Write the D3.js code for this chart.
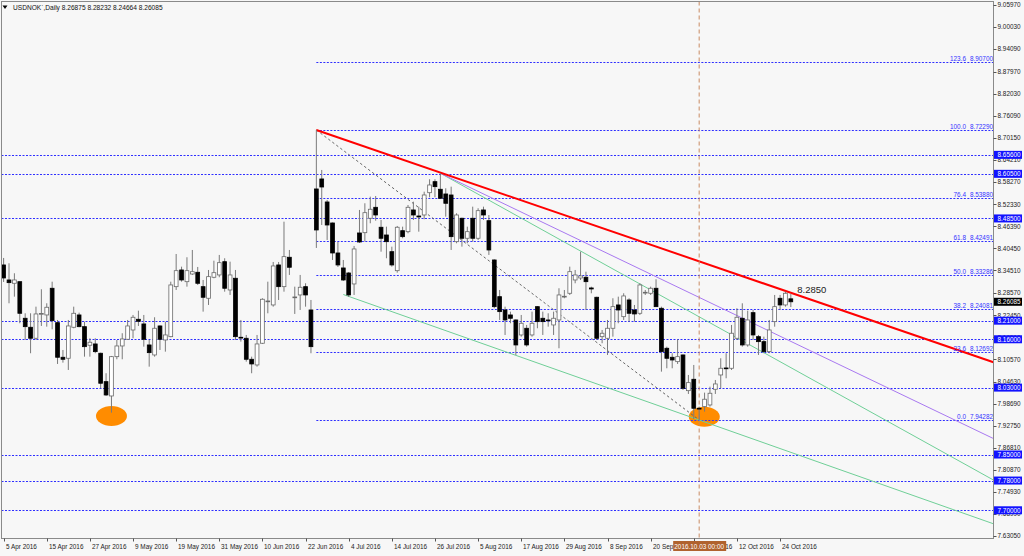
<!DOCTYPE html>
<html><head><meta charset="utf-8">
<script src="https://cdn.jsdelivr.net/npm/d3@7"></script>
<style>
html,body{margin:0;padding:0;background:#f7f7f7;}
svg{display:block;font-family:"Liberation Sans",Arial,sans-serif;}
</style></head>
<body><svg id="c" width="1024" height="556"></svg>
<script>
// ---------------- DATA ----------------
const symbol = "USDNOK`,Daily";
const firstDate = "2016-04-05";
const open  = [8.3599,8.3195,8.3106,8.3149,8.2165,8.1923,8.1627,8.2281,8.2254,8.2972,8.2047,8.1116,8.1089,8.1923,8.2254,8.1939,8.1439,8.1474,8.1224,8.0460,8.0075,8.1132,8.1420,8.1600,8.1850,8.2138,8.2012,8.1447,8.1178,8.1958,8.1581,8.1670,8.3015,8.3464,8.3149,8.3356,8.3402,8.3015,8.2703,8.3268,8.3330,8.3687,8.2926,8.3241,8.1654,8.1627,8.1062,8.0909,8.1493,8.2611,8.2523,8.3599,8.3015,8.3806,8.2730,8.2792,8.3015,8.2388,8.5643,8.5912,8.5293,8.4728,8.3921,8.3518,8.3383,8.3088,8.4459,8.4467,8.4855,8.5150,8.4613,8.4405,8.3956,8.3445,8.4521,8.4494,8.5078,8.4916,8.4943,8.5543,8.5839,8.5635,8.5508,8.5481,8.4225,8.4855,8.4317,8.4855,8.4317,8.5078,8.4790,8.3733,8.2746,8.2388,8.2254,8.2119,8.1716,8.1896,8.1716,8.2477,8.2165,8.2119,8.1985,8.2119,8.2746,8.2837,8.3195,8.3249,8.3268,8.2980,8.2730,8.1670,8.1627,8.1896,8.2523,8.2208,8.2657,8.2388,8.2299,8.2854,8.2837,8.2972,8.2434,8.1358,8.1116,8.0998,8.1178,8.0218,8.0524,7.9744,7.9788,7.9833,8.0255,8.0640,8.0828,8.0820,8.1627,8.2165,8.1447,8.2316,8.1670,8.1536,8.1267,8.2074,8.2703,8.2523,8.26875];
const high  = [8.3787,8.3644,8.3375,8.3155,8.2299,8.2299,8.2477,8.2945,8.2568,8.3149,8.2119,8.1312,8.2119,8.2477,8.2316,8.2074,8.1627,8.1627,8.1240,8.0686,8.1151,8.1581,8.1762,8.2119,8.2254,8.2369,8.2254,8.1581,8.2192,8.1975,8.2074,8.3149,8.3894,8.3553,8.3806,8.4002,8.3545,8.3195,8.3464,8.3714,8.3868,8.3779,8.3687,8.3464,8.2119,8.1716,8.1132,8.1716,8.2703,8.3149,8.3679,8.3679,8.4763,8.4002,8.3015,8.3330,8.3106,8.2657,8.7229,8.6154,8.5347,8.4740,8.4217,8.3733,8.3410,8.4110,8.5078,8.5258,8.5436,8.5454,8.4809,8.4629,8.4091,8.4648,8.4629,8.5212,8.5301,8.5167,8.5570,8.5904,8.5904,8.6065,8.5661,8.5705,8.4989,8.4870,8.4629,8.5167,8.5124,8.5167,8.4943,8.3750,8.2926,8.2477,8.2343,8.2135,8.2254,8.1985,8.2343,8.2490,8.2343,8.2299,8.2343,8.2972,8.2926,8.3553,8.3464,8.3956,8.3418,8.3015,8.2745,8.1850,8.2119,8.2703,8.2746,8.2837,8.2703,8.2523,8.3106,8.2926,8.3015,8.3214,8.2477,8.1401,8.1224,8.1600,8.1190,8.0640,8.0909,7.9788,8.0164,8.0325,8.0505,8.1089,8.1224,8.1985,8.2434,8.2568,8.2369,8.2388,8.1716,8.1670,8.2119,8.2792,8.2792,8.2880,8.28232];
const low   = [8.3141,8.2568,8.2746,8.2031,8.1581,8.1224,8.1581,8.1958,8.1939,8.1869,8.0936,8.0971,8.0774,8.1896,8.1923,8.1132,8.1132,8.1224,8.0282,8.0075,7.9626,8.1062,8.1062,8.1581,8.1627,8.1958,8.1401,8.0863,8.1132,8.1312,8.1267,8.1654,8.2926,8.3149,8.3015,8.3330,8.3061,8.2343,8.2523,8.3241,8.3268,8.2880,8.2792,8.1581,8.1536,8.0998,8.0686,8.0863,8.1474,8.2299,8.2477,8.2657,8.2880,8.3330,8.2281,8.2388,8.2477,8.1224,8.4056,8.4674,8.4271,8.3733,8.3545,8.3168,8.2738,8.2792,8.4190,8.4225,8.4720,8.4790,8.3956,8.3779,8.3553,8.3391,8.4317,8.4451,8.4809,8.4494,8.4828,8.5419,8.5419,8.5374,8.4898,8.4002,8.4182,8.4091,8.4182,8.4225,8.4271,8.4809,8.3868,8.2434,8.2119,8.1716,8.2031,8.1178,8.1670,8.1401,8.1670,8.1896,8.1716,8.1939,8.1716,8.1358,8.2703,8.2792,8.3106,8.3195,8.2388,8.2837,8.1581,8.1493,8.1178,8.1670,8.2031,8.2119,8.2074,8.2074,8.2254,8.2792,8.2792,8.2470,8.0729,8.0820,8.0820,8.0936,8.0236,8.0129,7.9455,7.94282,7.9654,7.9788,8.0129,8.0282,8.0551,8.0774,8.1581,8.1401,8.1401,8.1581,8.1178,8.1224,8.1224,8.1939,8.2388,8.2477,8.24664];
const close = [8.3249,8.3123,8.3195,8.2299,8.1939,8.1627,8.2281,8.2294,8.2461,8.2100,8.1116,8.1062,8.1958,8.2299,8.1939,8.1401,8.1520,8.1267,8.0417,8.0102,8.1132,8.1420,8.1608,8.1958,8.2192,8.2084,8.1600,8.1240,8.1896,8.1600,8.1716,8.3061,8.3445,8.3195,8.3445,8.3418,8.3106,8.2730,8.3284,8.3391,8.3660,8.2972,8.3330,8.1670,8.1643,8.1062,8.0936,8.1474,8.2676,8.2630,8.3572,8.3015,8.3822,8.3537,8.2738,8.2999,8.2792,8.1401,8.4540,8.5696,8.4674,8.3921,8.3599,8.3195,8.2792,8.4029,8.4217,8.5005,8.5097,8.4943,8.4317,8.4225,8.3599,8.4613,8.4360,8.5150,8.4943,8.4890,8.5481,8.5750,8.5705,8.5393,8.5258,8.4360,8.4943,8.4317,8.4494,8.4317,8.5059,8.4943,8.4002,8.2477,8.2343,8.2119,8.2165,8.1447,8.2031,8.1447,8.2031,8.2074,8.2074,8.2106,8.2165,8.2792,8.2757,8.3418,8.3330,8.3303,8.3149,8.2953,8.1627,8.1762,8.1896,8.2477,8.2388,8.2765,8.2299,8.2281,8.3061,8.2864,8.2972,8.2477,8.1267,8.1089,8.1043,8.1132,8.0282,8.0433,7.9744,7.9736,7.9987,8.0148,8.0398,8.0820,8.0809,8.1762,8.2192,8.1447,8.2119,8.1716,8.1536,8.1267,8.1850,8.2477,8.2523,8.2837,8.26085];

const dateTickDates = ["2016-04-05","2016-04-15","2016-04-27","2016-05-09","2016-05-19","2016-05-31","2016-06-10","2016-06-22","2016-07-04","2016-07-14","2016-07-26","2016-08-05","2016-08-17","2016-08-29","2016-09-08","2016-09-20","2016-09-30","2016-10-12","2016-10-24"];
const priceTicks = [9.05970,9.00030,8.94090,8.87970,8.82030,8.76090,8.70150,8.64210,8.58270,8.52330,8.46390,8.40450,8.34510,8.28570,8.22450,8.16510,8.10570,8.04630,7.98690,7.92750,7.86810,7.80870,7.74930,7.68990,7.63050];
const levelPrices = [8.65600,8.60500,8.48500,8.21000,8.16000,8.03000,7.85000,7.78000,7.70000];
const fibPercents = ["123.6","100.0","76.4","61.8","50.0","38.2","23.6","0.0"];
const fibPrices   = [8.90700,8.72290,8.53880,8.42491,8.33286,8.24081,8.12692,7.94282];
const fibStartDate = "2016-06-24";
const trendLines = [
  {name:"grayDotted", a:["2016-06-24",8.72290], b:["2016-10-03",7.94282], ray:false},
  {name:"lowerGreen", a:["2016-07-01",8.2804],  b:["2016-10-03",7.94282], ray:true},
  {name:"upperGreen", a:["2016-07-27",8.6065],  b:["2016-10-03",8.2204],  ray:true},
  {name:"purple",     a:["2016-07-27",8.6065],  b:["2016-10-03",8.2726],  ray:true},
  {name:"red",        a:["2016-06-24",8.72290], b:["2016-10-26",8.2850],  ray:true}
];
const trendLabel = {date:"2016-10-26", barOffset:1.2, price:8.2840, text:"8.2850"};
const ellipses = [{date:"2016-05-03", barOffset:0, price:7.9536},{date:"2016-10-03", barOffset:0.95, price:7.9517}];
const crosshairDate = "2016-10-03";
const crosshairText = "2016.10.03 00:00";

// ---------------- BUILD ----------------
const n = open.length;
const dates = [];
{ let d = new Date(firstDate+"T00:00:00Z");
  while (dates.length < n) { const w = d.getUTCDay(); if (w!==0 && w!==6) dates.push(new Date(d)); d.setUTCDate(d.getUTCDate()+1); } }
const fmtKey = d3.utcFormat("%Y-%m-%d");
const idx = new Map(dates.map((d,i)=>[fmtKey(d),i]));
const bars = dates.map((d,i)=>({i, d, o:open[i], h:high[i], l:low[i], c:close[i]}));

const W=1024, H=556;
const L=1.5, R=993.5, T=1.5, B=538.5;
const x = d3.scaleLinear().domain([-0.3, 183.58]).range([2, 993.46]);
const y = d3.scaleLinear().domain([7.6241, 9.0672]).range([538.5, 2]);

const svg = d3.select("#c");
svg.append("rect").attr("width",W).attr("height",H).attr("fill","#f7f7f7");
svg.append("defs").append("clipPath").attr("id","clip").append("rect")
  .attr("x",L).attr("y",T).attr("width",R-L).attr("height",B-T);
const g = svg.append("g").attr("clip-path","url(#clip)");

// ellipses (background)
g.selectAll("ellipse.mark").data(ellipses).join("ellipse")
  .attr("cx",d=>x(idx.get(d.date)+d.barOffset)).attr("cy",d=>y(d.price))
  .attr("rx",15.5).attr("ry",10).attr("fill","#ff8c00");

// horizontal levels
const blue = "#2f2fff";
g.selectAll("line.level").data(levelPrices).join("line")
  .attr("x1",L).attr("x2",R).attr("y1",d=>Math.round(y(d))+0.5).attr("y2",d=>Math.round(y(d))+0.5)
  .attr("stroke",blue).attr("stroke-width",1).attr("stroke-dasharray","2,1.5");

// fib levels
const fx0 = x(idx.get(fibStartDate));
g.selectAll("line.fib").data(fibPrices).join("line")
  .attr("x1",fx0).attr("x2",R).attr("y1",d=>Math.round(y(d))+0.5).attr("y2",d=>Math.round(y(d))+0.5)
  .attr("stroke",blue).attr("stroke-width",1).attr("stroke-dasharray","2,1.5");
const fibG = svg.append("g").attr("font-size","6.4px").attr("fill","#3333ff");
fibG.selectAll("text.fp").data(fibPrices).join("text")
  .attr("x",R-0.5).attr("y",d=>Math.round(y(d))-1).attr("text-anchor","end").text(d=>d3.format(".5f")(d));
fibG.selectAll("text.fl").data(fibPercents).join("text")
  .attr("x",966).attr("y",(d,i)=>Math.round(y(fibPrices[i]))-1).attr("text-anchor","end").text(d=>d);

// trend lines
const styles = {
  grayDotted:{stroke:"#666", w:1, dash:"2.5,2.5"},
  lowerGreen:{stroke:"#6fcf97", w:1, dash:null},
  upperGreen:{stroke:"#6fcf97", w:1, dash:null},
  purple:{stroke:"#a878f0", w:1, dash:null},
  red:{stroke:"#ff0000", w:2, dash:null}
};
const xMax = x.domain()[1];
trendLines.forEach(t=>{
  const ia = idx.get(t.a[0]), ib = idx.get(t.b[0]);
  let x2i = ib, p2 = t.b[1];
  if (t.ray) { const s = (t.b[1]-t.a[1])/(ib-ia); x2i = xMax; p2 = t.a[1] + s*(xMax-ia); }
  const st = styles[t.name];
  g.append("line").attr("x1",x(ia)).attr("y1",y(t.a[1])).attr("x2",x(x2i)).attr("y2",y(p2))
    .attr("stroke",st.stroke).attr("stroke-width",st.w).attr("stroke-dasharray",st.dash);
});

// crosshair
const cx = x(idx.get(crosshairDate));
g.append("line").attr("x1",cx).attr("x2",cx).attr("y1",T).attr("y2",B)
  .attr("stroke","#c98a62").attr("stroke-width",1).attr("stroke-dasharray","4,3");

// candles
const bw = 3.8;
g.selectAll("line.wick").data(bars).join("line")
  .attr("x1",d=>x(d.i)).attr("x2",d=>x(d.i)).attr("y1",d=>y(d.h)).attr("y2",d=>y(d.l))
  .attr("stroke","#7a7a7a").attr("stroke-width",1);
g.selectAll("rect.body").data(bars).join("rect")
  .attr("x",d=>x(d.i)-bw/2).attr("y",d=>y(Math.max(d.o,d.c)))
  .attr("width",bw).attr("height",d=>Math.max(0.8,Math.abs(y(d.o)-y(d.c))))
  .attr("fill",d=>d.c>=d.o?"#ffffff":"#000000")
  .attr("stroke",d=>d.c>=d.o?"#6a6a6a":"#000000").attr("stroke-width",0.8);

// trend label
svg.append("text").attr("x",x(idx.get(trendLabel.date)+trendLabel.barOffset)).attr("y",y(trendLabel.price))
  .attr("font-size","9.5px").attr("fill","#222").text(trendLabel.text);

// frame
svg.append("rect").attr("x",L).attr("y",T).attr("width",R-L).attr("height",B-T)
  .attr("fill","none").attr("stroke","#8a8a8a").attr("stroke-width",1);

// right axis
const ax = svg.append("g").attr("font-size","6.4px").attr("fill","#222");
ax.selectAll("line.t").data(priceTicks).join("line")
  .attr("x1",R).attr("x2",R+3).attr("y1",d=>Math.round(y(d))+0.5).attr("y2",d=>Math.round(y(d))+0.5)
  .attr("stroke","#555");
ax.selectAll("text.t").data(priceTicks).join("text")
  .attr("x",R+4).attr("y",d=>y(d)+2.3).text(d=>d3.format(".5f")(d));
// level boxes
const lb = svg.append("g").attr("font-size","6.4px");
levelPrices.forEach(p=>{
  const yy = y(p);
  lb.append("rect").attr("x",R+0.5).attr("y",yy-4).attr("width",28).attr("height",8).attr("fill","#1212ff");
  lb.append("text").attr("x",R+4).attr("y",yy+2.3).attr("fill","#fff").text(d3.format(".5f")(p));
});
// current price box
{ const p = close[n-1], yy = y(p);
  lb.append("rect").attr("x",R+0.5).attr("y",yy-4).attr("width",28).attr("height",8).attr("fill","#000");
  lb.append("text").attr("x",R+4).attr("y",yy+2.3).attr("fill","#fff").text(d3.format(".5f")(p)); }

// bottom axis
const fmtLab = d3.utcFormat("%-d %b %Y");
const bx = svg.append("g").attr("font-size","6.4px").attr("fill","#222");
dateTickDates.forEach(ds=>{
  const i = idx.get(ds), xx = Math.round(x(i))+0.5;
  bx.append("line").attr("x1",xx).attr("x2",xx).attr("y1",B).attr("y2",B+3).attr("stroke","#555");
  bx.append("text").attr("x",xx+1.5).attr("y",B+10).text(fmtLab(dates[i]));
});
// crosshair label box
bx.append("rect").attr("x",cx-26).attr("y",B+2.5).attr("width",53).attr("height",10).attr("fill","#b0622e");
bx.append("text").attr("x",cx).attr("y",B+10).attr("text-anchor","middle").attr("fill","#fff").text(crosshairText);

// header
svg.append("path").attr("d","M2.5,5.5 L7.5,5.5 L5,9 Z").attr("fill","#000");
svg.append("text").attr("x",13).attr("y",10).attr("font-size","6.6px").attr("fill","#111")
  .text(symbol+"  "+[open[n-1],high[n-1],low[n-1],close[n-1]].map(d3.format(".5f")).join(" "));
</script></body></html>
